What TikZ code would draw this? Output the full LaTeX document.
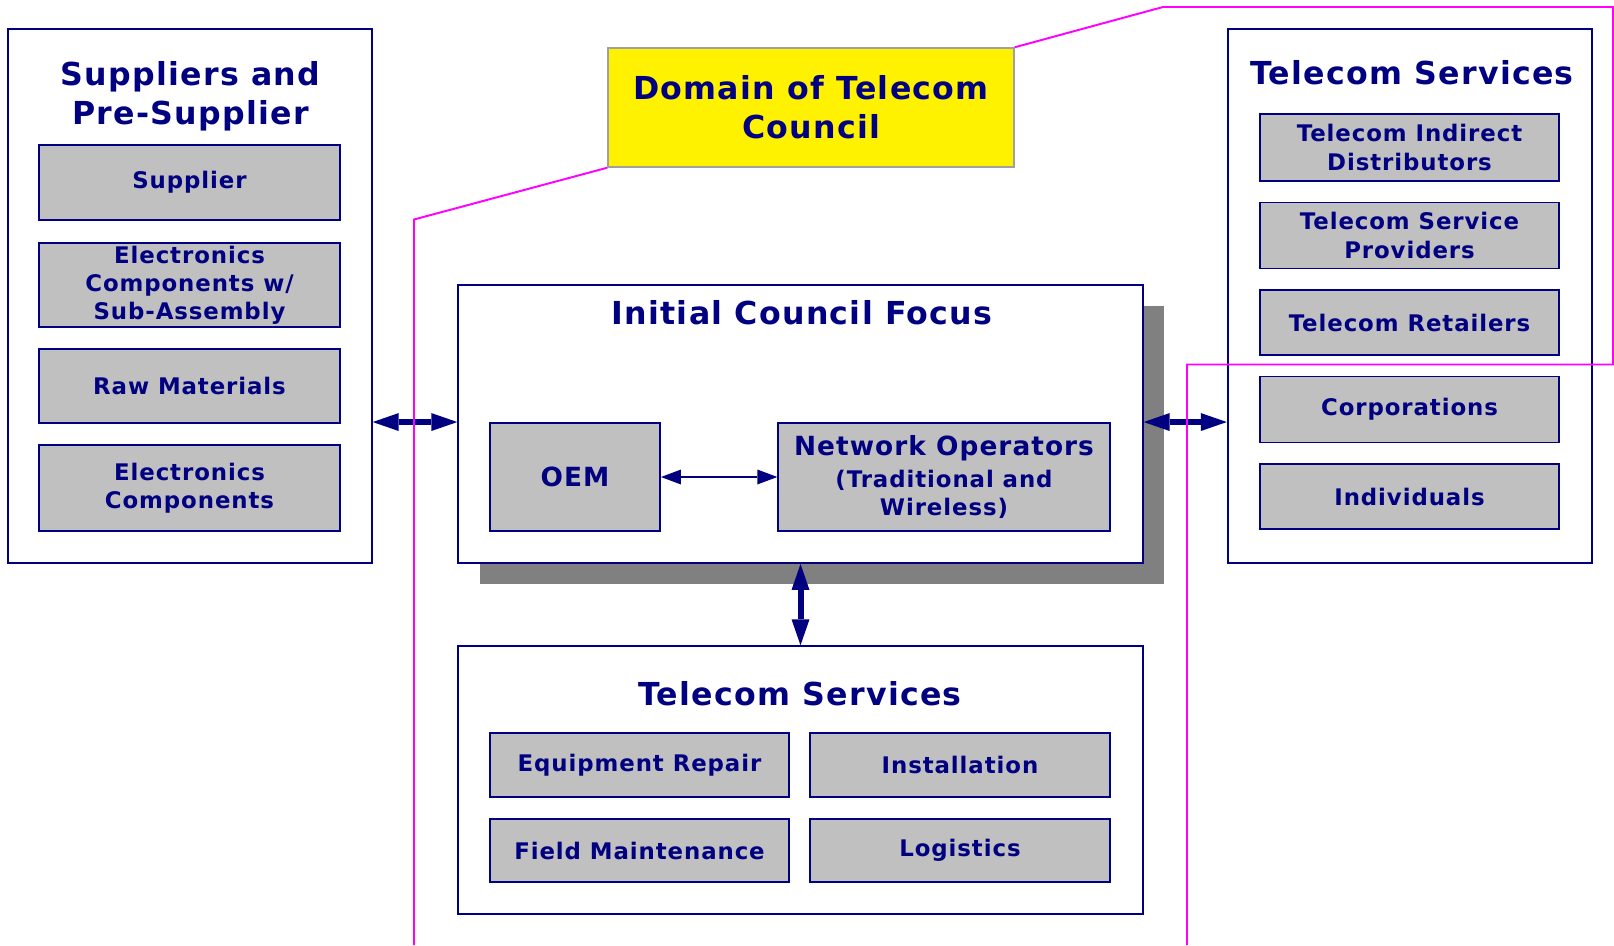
\documentclass[tikz,border=0pt]{standalone}
\usepackage{fontspec}
\setmainfont{DejaVu Sans}[LetterSpace=4.0]
\usepackage{xcolor}
\usepackage{tikz}
\usetikzlibrary{arrows.meta,shadows}

\definecolor{navy}{RGB}{0,0,128}
\definecolor{boxgray}{RGB}{192,192,192}
\definecolor{shadowgray}{RGB}{128,128,128}
\definecolor{domaingray}{RGB}{160,160,160}
\definecolor{domainpink}{RGB}{255,0,255}

\tikzset{
    bigbox/.style={draw=navy, line width=1.1pt, fill=white, inner sep=0pt},
    graybox/.style={draw=navy, line width=1.1pt, fill=boxgray, inner sep=0pt, align=center,
        text=navy, font=\bfseries\fontsize{13}{16}\selectfont},
    boxtitle/.style={text=navy, align=center, inner sep=0pt, font=\bfseries\fontsize{18}{22}\selectfont},
    dblarrow/.style={draw=navy, line width=3.4pt,
        arrows={Triangle[length=0.52cm,width=0.36cm,line width=0pt]-Triangle[length=0.52cm,width=0.36cm,line width=0pt]}},
    thinarrow/.style={draw=navy, line width=1.1pt,
        arrows={Triangle[length=0.4cm,width=0.3cm,line width=0pt]-Triangle[length=0.4cm,width=0.3cm,line width=0pt]}},
    domainline/.style={draw=domainpink, line width=1.1pt}
}

\begin{document}
\begin{tikzpicture}
    \useasboundingbox (0,0) rectangle (32.28,-18.9);

    % suppliers
    \node[bigbox, minimum width=7.27cm, minimum height=10.68cm] (sup) at (3.80,-5.92) {};
    \node[boxtitle] (suptitle) at (3.81,-1.93) {Suppliers and\\Pre-Supplier};
    \node[graybox, minimum width=6.01cm, minimum height=1.50cm] (supplier) at (3.79,-3.65) {Supplier};
    \node[graybox, minimum width=6.01cm, minimum height=1.69cm] (subassy) at (3.79,-5.70) {Electronics\\Components w/\\Sub-Assembly};
    \node[graybox, minimum width=6.01cm, minimum height=1.48cm] (raw) at (3.79,-7.72) {Raw Materials};
    \node[graybox, minimum width=6.01cm, minimum height=1.73cm] (parts) at (3.79,-9.76) {Electronics\\Components};

    % telecom services (right)
    \node[bigbox, minimum width=7.29cm, minimum height=10.68cm] (tel) at (28.20,-5.92) {};
    \node[boxtitle] (teltitle) at (28.24,-1.46) {Telecom Services};
    \node[graybox, minimum width=5.99cm, minimum height=1.34cm] (indirect) at (28.19,-2.95) {Telecom Indirect\\Distributors};
    \node[graybox, minimum width=5.99cm, minimum height=1.32cm] (providers) at (28.19,-4.71) {Telecom Service\\Providers};
    \node[graybox, minimum width=5.99cm, minimum height=1.30cm] (retailers) at (28.19,-6.45) {Telecom Retailers};
    \node[graybox, minimum width=5.99cm, minimum height=1.32cm] (corp) at (28.19,-8.19) {Corporations};
    \node[graybox, minimum width=5.99cm, minimum height=1.30cm] (indiv) at (28.19,-9.93) {Individuals};

    % council focus
    \node[bigbox, drop shadow={shadow xshift=0.43cm, shadow yshift=-0.41cm, fill=shadowgray, opacity=1},
        minimum width=13.69cm, minimum height=5.56cm] (icf) at (16.01,-8.48) {};
    \node[boxtitle] (icftitle) at (16.04,-6.26) {Initial Council Focus};
    \node[graybox, font=\bfseries\fontsize{15}{18}\selectfont, minimum width=3.40cm, minimum height=2.16cm] (oem) at (11.50,-9.54) {OEM};
    \node[graybox, minimum width=6.63cm, minimum height=2.16cm] (netops) at (18.88,-9.54)
        {{\fontsize{15}{18}\selectfont Network Operators}\\[2pt](Traditional and\\Wireless)};

    % telecom services (bottom)
    \node[bigbox, minimum width=13.69cm, minimum height=5.35cm] (svc) at (16.01,-15.60) {};
    \node[boxtitle] (svctitle) at (16.00,-13.88) {Telecom Services};
    \node[graybox, minimum width=5.99cm, minimum height=1.28cm] (repair) at (12.79,-15.30) {Equipment Repair};
    \node[graybox, minimum width=5.99cm, minimum height=1.28cm] (install) at (19.20,-15.30) {Installation};
    \node[graybox, minimum width=5.99cm, minimum height=1.26cm] (field) at (12.79,-17.01) {Field Maintenance};
    \node[graybox, minimum width=5.99cm, minimum height=1.26cm] (logistics) at (19.20,-17.01) {Logistics};

    % domain label
    \node[boxtitle, draw=domaingray, fill=yellow, line width=1.1pt, minimum width=8.11cm, minimum height=2.37cm] (dom) at (16.22,-2.15) {Domain of Telecom\\Council};

    \draw[dblarrow] (sup.east |- oem.north) -- (icf.west |- oem.north);
    \draw[dblarrow] (icf.east |- oem.north) -- (tel.west |- oem.north);
    \draw[dblarrow] (icf.south) -- (svc.north);
    \draw[thinarrow] (oem) -- (netops);

    % domain outline
    \coordinate (lowleft) at (8.28,-18.9);
    \coordinate (bendleft) at (8.28,-4.39);
    \coordinate (bendtop) at (23.26,-0.14);
    \coordinate (cornertop) at (32.26,-0.14);
    \coordinate (cornerright) at (32.26,-7.29);
    \coordinate (bendright) at (23.74,-7.29);
    \coordinate (lowright) at (23.74,-18.9);
    \draw[domainline] (lowleft) -- (bendleft) -- (dom.south west);
    \draw[domainline] (dom.north east) -- (bendtop) -- (cornertop) -- (cornerright) -- (bendright) -- (lowright);
\end{tikzpicture}
\end{document}
